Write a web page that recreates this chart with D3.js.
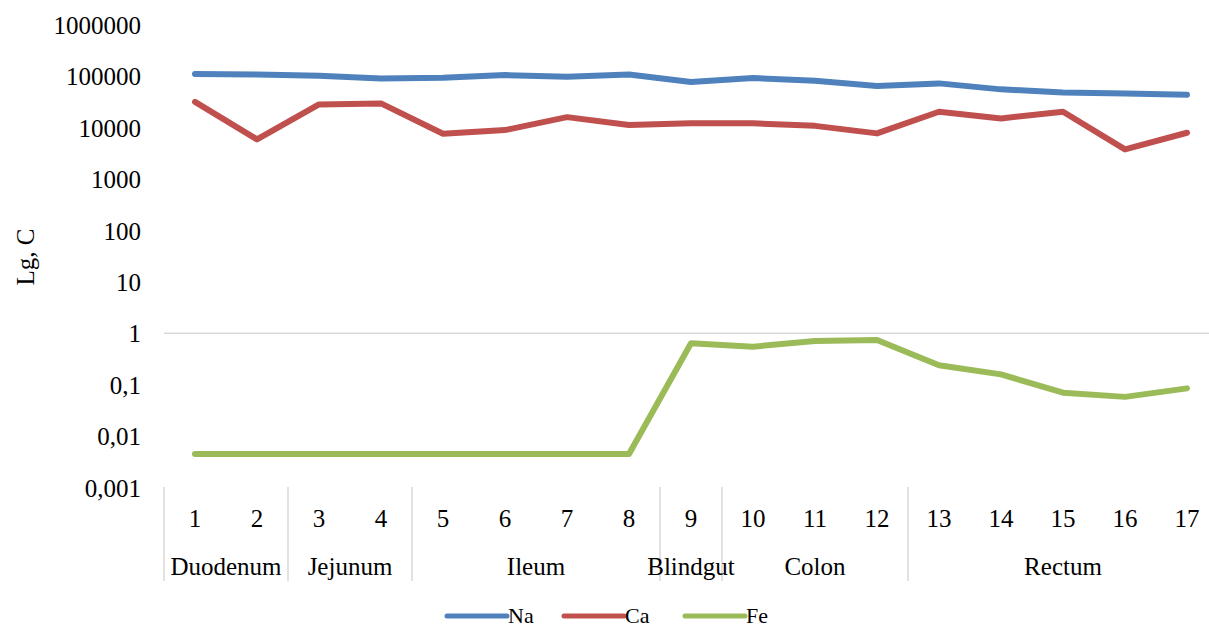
<!DOCTYPE html>
<html>
<head>
<meta charset="utf-8">
<script src="https://cdn.jsdelivr.net/npm/d3@7"></script>
<style>
  html, body { margin: 0; padding: 0; background: #fff; }
  #chart, #chart text { font-family: "Liberation Serif", "Times New Roman", Times, "DejaVu Serif", serif !important; }
</style>
</head>
<body>
<svg id="chart" width="1209" height="628"></svg>
<script>
// Sample points along the intestine
const points = ["1","2","3","4","5","6","7","8","9","10","11","12","13","14","15","16","17"];

// Intestine sections and how many sample points each covers
const sections = ["Duodenum", "Jejunum", "Ileum", "Blindgut", "Colon", "Rectum"];
const sectionSizes = [2, 2, 4, 1, 3, 5];

// Element concentrations per sample point
const na = [111000, 109000, 103000, 91400, 94000, 106000, 98200, 109000, 77500, 92700, 82000, 64700, 73100, 55900, 48800, 46700, 43900];
const ca = [32000, 5950, 28500, 29800, 7640, 9020, 16100, 11300, 12200, 12200, 10900, 7780, 20500, 15200, 20500, 3800, 8000];
const fe = [0.0045, 0.0045, 0.0045, 0.0045, 0.0045, 0.0045, 0.0045, 0.0045, 0.64, 0.55, 0.71, 0.74, 0.24, 0.159, 0.070, 0.058, 0.085];

// Log-axis tick values and their printed labels
const yTicks = [1000000, 100000, 10000, 1000, 100, 10, 1, 0.1, 0.01, 0.001];
const yTickLabels = ["1000000", "100000", "10000", "1000", "100", "10", "1", "0,1", "0,01", "0,001"];

const seriesNames = ["Na", "Ca", "Fe"];
const seriesColors = ["#4f81bd", "#c0504d", "#9bbb59"];
const seriesValues = [na, ca, fe];

const svg = d3.select("#chart");
const serif = "'Liberation Serif', 'Times New Roman', Times, serif";

const x = d3.scalePoint().domain(points).range([164, 1218]).padding(0.5);
const step = x.step();
const y = d3.scaleLog().domain([0.001, 1000000]).range([487.5, 25]);

const fontSize = 25;

// Horizontal axis line crossing at 1
svg.append("line")
  .attr("x1", 164).attr("x2", 1218)
  .attr("y1", y(1)).attr("y2", y(1))
  .attr("stroke", "#d9d9d9").attr("stroke-width", 1.5);

// Y tick labels
const tickLabel = d3.scaleOrdinal().domain(yTicks).range(yTickLabels);
const yAxis = d3.axisLeft(y).tickValues(yTicks).tickFormat(d => tickLabel(d)).tickSize(0).tickPadding(0);
const yg = svg.append("g").attr("transform", "translate(141,0)").call(yAxis)
  .attr("font-family", serif).attr("font-size", fontSize);
yg.select(".domain").remove();
yg.selectAll("text")
  .style("font-family", serif)
  .attr("fill", "#000")
  .attr("dy", "0.34em");

// Y axis title
svg.append("text")
  .attr("transform", `translate(34,257) rotate(-90)`)
  .attr("text-anchor", "middle")
  .style("font-family", serif)
  .attr("font-size", fontSize)
  .text("Lg, C");

// Category labels (sample numbers)
svg.append("g").selectAll("text")
  .data(points)
  .join("text")
  .attr("x", d => x(d))
  .attr("y", 518)
  .attr("dy", "0.34em")
  .attr("text-anchor", "middle")
  .style("font-family", serif)
  .attr("font-size", fontSize)
  .text(d => d);

// Section separators and section labels
let start = 0;
const bounds = [0];
sectionSizes.forEach(n => { start += n; bounds.push(start); });
const edgeX = i => i < points.length ? x(points[i]) - step / 2 : x(points[points.length - 1]) + step / 2;

svg.append("g").selectAll("line")
  .data(bounds)
  .join("line")
  .attr("x1", d => edgeX(d)).attr("x2", d => edgeX(d))
  .attr("y1", 487).attr("y2", 581)
  .attr("stroke", "#d9d9d9").attr("stroke-width", 1.5);

svg.append("g").selectAll("text")
  .data(sections)
  .join("text")
  .attr("x", (d, i) => (edgeX(bounds[i]) + edgeX(bounds[i + 1])) / 2)
  .attr("y", 566)
  .attr("dy", "0.34em")
  .attr("text-anchor", "middle")
  .style("font-family", serif)
  .attr("font-size", fontSize)
  .text(d => d);

// Series lines
const line = d3.line()
  .x((d, i) => x(points[i]))
  .y(d => y(d));

svg.append("g").selectAll("path")
  .data(seriesValues)
  .join("path")
  .attr("d", d => line(d))
  .attr("fill", "none")
  .attr("stroke", (d, i) => seriesColors[i])
  .attr("stroke-width", 6)
  .attr("stroke-linejoin", "round")
  .attr("stroke-linecap", "round");

// Legend
const legendX = [447, 564, 685];
const lg = svg.append("g").selectAll("g")
  .data(seriesNames)
  .join("g")
  .attr("transform", (d, i) => `translate(${legendX[i]},616)`);
lg.append("line")
  .attr("x1", 0).attr("x2", 60)
  .attr("stroke", (d, i) => seriesColors[i])
  .attr("stroke-width", 5)
  .attr("stroke-linecap", "round");
lg.append("text")
  .attr("x", 61)
  .attr("y", 6.5)
  .style("font-family", serif)
  .attr("font-size", 22)
  .text(d => d);
</script>
</body>
</html>
